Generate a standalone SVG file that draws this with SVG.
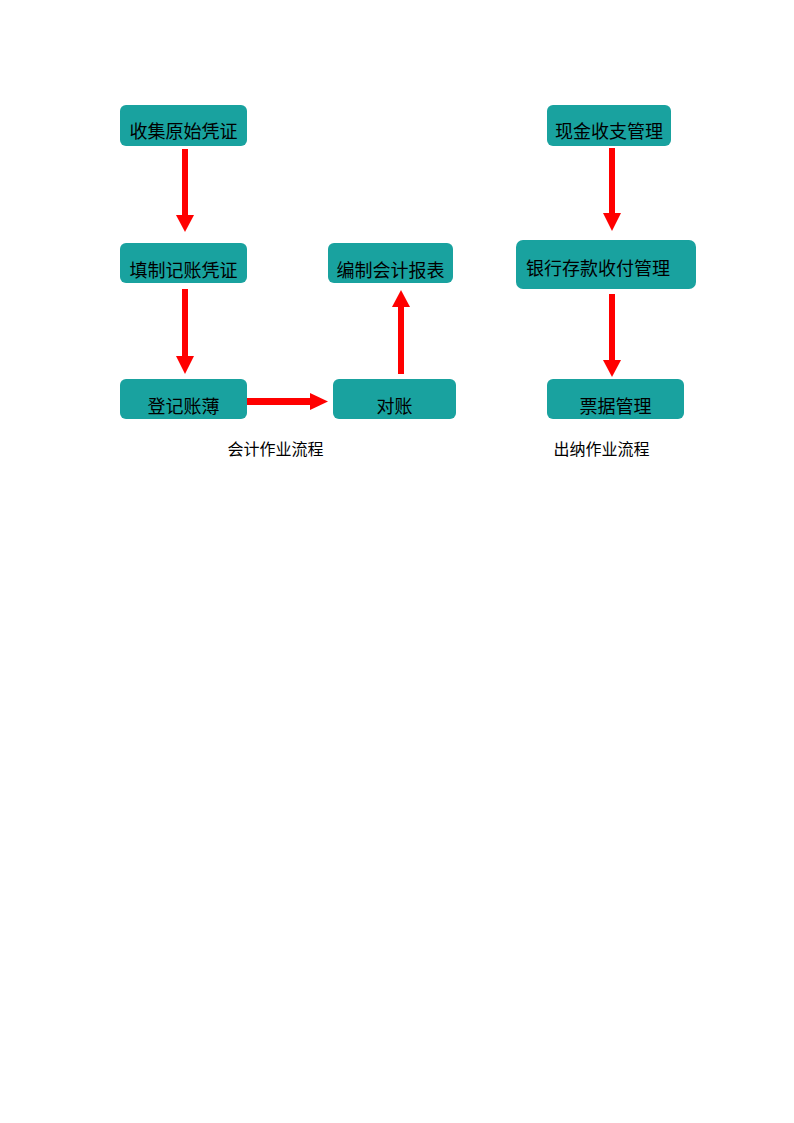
<svg xmlns="http://www.w3.org/2000/svg" width="794" height="1123" viewBox="0 0 794 1123">
<style>
.box{fill:#19A29F;}
.t{font-family:"Liberation Sans","Noto Sans CJK SC",sans-serif;font-size:18px;fill:#000;}
.lbl{font-family:"Liberation Sans","Noto Sans CJK SC",sans-serif;font-size:16px;fill:#000;}
.shaft{fill:#FF0000;}
.head{fill:#FF0000;}
</style>
<rect width="794" height="1123" fill="#fff"/>
<g id="n1"><rect class="box" x="120" y="105" width="127" height="41" rx="6"/><text class="t" x="183.5" y="138" text-anchor="middle">收集原始凭证</text></g>
<g id="n2"><rect class="box" x="120" y="243" width="127" height="40" rx="6"/><text class="t" x="183.5" y="277" text-anchor="middle">填制记账凭证</text></g>
<g id="n3"><rect class="box" x="328" y="243" width="125" height="40" rx="6"/><text class="t" x="390.5" y="277" text-anchor="middle">编制会计报表</text></g>
<g id="n4"><rect class="box" x="120" y="379" width="127" height="40" rx="6"/><text class="t" x="183.5" y="413" text-anchor="middle">登记账薄</text></g>
<g id="n5"><rect class="box" x="333" y="379" width="123" height="40" rx="6"/><text class="t" x="394.5" y="413" text-anchor="middle">对账</text></g>
<g id="n6"><rect class="box" x="547" y="105" width="124" height="41" rx="6"/><text class="t" x="609" y="138" text-anchor="middle">现金收支管理</text></g>
<g id="n7"><rect class="box" x="516" y="240" width="180" height="49" rx="7"/><text class="t" x="526" y="275">银行存款收付管理</text></g>
<g id="n8"><rect class="box" x="547" y="379" width="137" height="40" rx="6"/><text class="t" x="615.5" y="413" text-anchor="middle">票据管理</text></g>
<g id="lbl1"><text class="lbl" x="275.5" y="455" text-anchor="middle">会计作业流程</text></g>
<g id="lbl2"><text class="lbl" x="601.5" y="455" text-anchor="middle">出纳作业流程</text></g>
<g id="connectors">
<rect class="shaft" x="182" y="149" width="6" height="67"/>
<polygon class="head" points="176,215 194,215 185,232"/>
<rect class="shaft" x="182" y="289" width="6" height="68"/>
<polygon class="head" points="176,356 194,356 185,374"/>
<rect class="shaft" x="247" y="398" width="64" height="7"/>
<polygon class="head" points="310,393 310,410 328,401.5"/>
<rect class="shaft" x="398" y="306" width="6" height="68"/>
<polygon class="head" points="392,307 410,307 401,290"/>
<rect class="shaft" x="609" y="148" width="6" height="66"/>
<polygon class="head" points="603,213 621,213 612,231"/>
<rect class="shaft" x="609" y="294" width="6" height="67"/>
<polygon class="head" points="603,360 621,360 612,377"/>
</g>
</svg>
